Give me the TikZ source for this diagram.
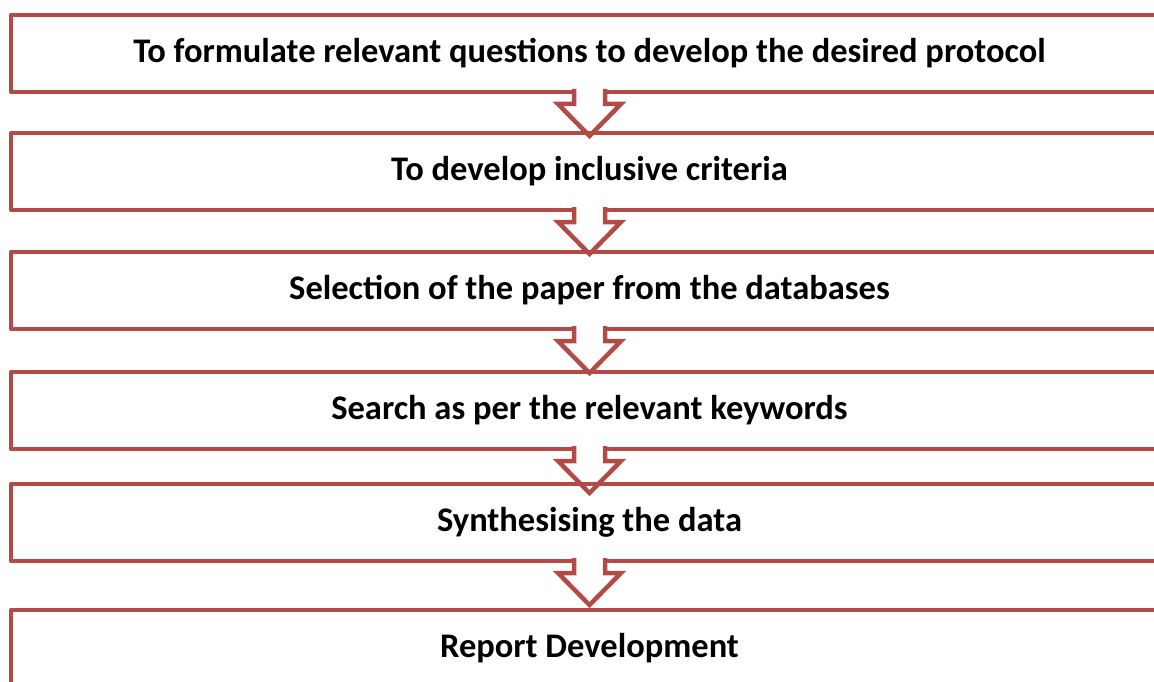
\documentclass[tikz,border=0pt]{standalone}
\usepackage{fontspec}
\setmainfont{Carlito}
\definecolor{stepred}{RGB}{178,75,72}
\tikzset{
  stepbox/.style={rectangle, draw=stepred, line width=4.5pt, line join=round,
    outer sep=0pt, minimum width=1157pt, minimum height=77pt, anchor=north west,
    font=\fontsize{34.5}{40}\selectfont\bfseries},
  downarrow/.style={draw=stepred, line width=4.5pt, fill=white}
}
\begin{document}
\begin{tikzpicture}[x=1pt, y=-1pt]
  \useasboundingbox (0,0) rectangle (1154,682);
  \clip (0,0) rectangle (1154,682);

  % Steps, each followed by a hollow down arrow
  \foreach \i/\ytop/\txt in {
      1/15/To formulate relevant questions to develop the desired protocol,
      2/133/To develop inclusive criteria,
      3/252/Selection of the paper from the databases,
      4/372/Search as per the relevant keywords,
      5/484/Synthesising the data,
      6/610/Report Development}{
    \node[stepbox] (b\i) at (11,\ytop) {\txt};
    \ifnum\i<6
      \draw[downarrow, shift={(b\i.south)}] (-15.5,-3) -- (-15.5,12) -- (-31.5,12)
        -- (0,44) -- (31.5,12) -- (15.5,12) -- (15.5,-3);
    \fi
  }
\end{tikzpicture}
\end{document}
